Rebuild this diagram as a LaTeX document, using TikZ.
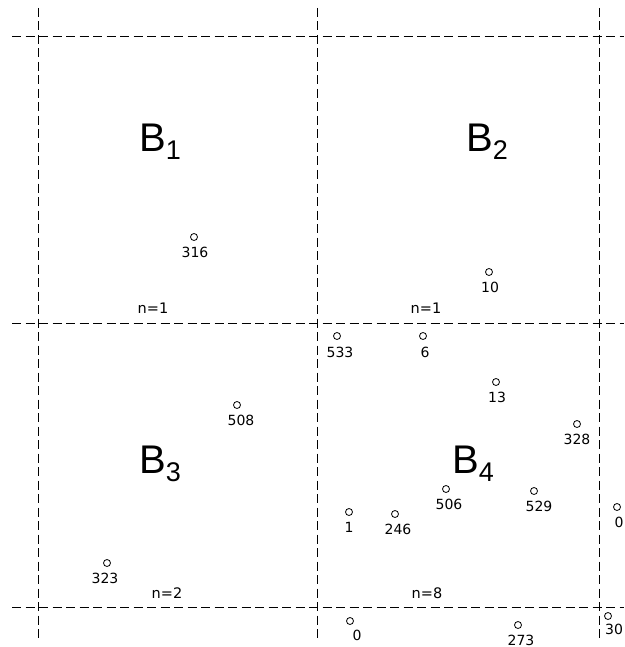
\documentclass[tikz,border=0pt]{standalone}
\usepackage{fontspec}
\setmainfont{Liberation Sans}
\newfontfamily\lblfont{DejaVu Sans}
\newcommand{\blocksub}[1]{\raisebox{-8pt}{\fontsize{27}{27}\selectfont #1}}
\begin{document}
\begin{tikzpicture}[x=1pt,y=-1pt,
  gridline/.style={line width=1pt,dash pattern=on 9pt off 4.5pt},
  dot/.style={circle,draw,line width=0.8pt,minimum size=7pt,inner sep=0pt},
  lbl/.style={inner sep=0pt,font=\lblfont\fontsize{14}{14}\selectfont},
  nlbl/.style={inner sep=0pt,font=\lblfont\fontsize{14.5}{14.5}\selectfont},
  blbl/.style={inner sep=0pt,anchor=base west,font=\fontsize{40}{40}\selectfont}]
\useasboundingbox (0,0) rectangle (624,647);
% grid coordinates
\coordinate (v1t) at (38,8);   \coordinate (v1b) at (38,640);
\coordinate (v2t) at (317,8);  \coordinate (v2b) at (317,640);
\coordinate (v3t) at (599,8);  \coordinate (v3b) at (599,640);
\coordinate (h1l) at (12,37);  \coordinate (h1r) at (624,37);
\coordinate (h2l) at (12,323); \coordinate (h2r) at (624,323);
\coordinate (h3l) at (12,607); \coordinate (h3r) at (624,607);
\draw[gridline] (v1t) -- (v1b);
\draw[gridline] (v2t) -- (v2b);
\draw[gridline] (v3t) -- (v3b);
\draw[gridline] (h1l) -- (h1r);
\draw[gridline] (h2l) -- (h2r);
\draw[gridline] (h3l) -- (h3r);
% block labels
\node[blbl] (B1) at (139,152) {B\blocksub{1}};
\node[blbl] (B2) at (466,152) {B\blocksub{2}};
\node[blbl] (B3) at (139,473) {B\blocksub{3}};
\node[blbl] (B4) at (452,473) {B\blocksub{4}};
% counts
\node[nlbl] (n1) at (153,308) {n=1};
\node[nlbl] (n2) at (426,308) {n=1};
\node[nlbl] (n3) at (167,593) {n=2};
\node[nlbl] (n4) at (427,593) {n=8};
% points
\node[dot] (p316) at (194,237) {}; \node[lbl] (l316) at (195,252) {316};
\node[dot] (p10) at (489,272) {};  \node[lbl] (l10) at (490,287) {10};
\node[dot] (p533) at (337,336) {}; \node[lbl] (l533) at (340,352) {533};
\node[dot] (p6) at (423,336) {};   \node[lbl] (l6) at (425,352) {6};
\node[dot] (p13) at (496,382) {};  \node[lbl] (l13) at (497,397) {13};
\node[dot] (p328) at (577,424) {}; \node[lbl] (l328) at (577,439) {328};
\node[dot] (p508) at (237,405) {}; \node[lbl] (l508) at (241,420) {508};
\node[dot] (p506) at (446,489) {}; \node[lbl] (l506) at (449,504) {506};
\node[dot] (p529) at (534,491) {}; \node[lbl] (l529) at (539,506) {529};
\node[dot] (p1) at (349,512) {};   \node[lbl] (l1) at (349,527) {1};
\node[dot] (p246) at (395,514) {}; \node[lbl] (l246) at (398,529) {246};
\node[dot] (p0a) at (617,507) {};  \node[lbl] (l0a) at (619,522) {0};
\node[dot] (p323) at (107,563) {}; \node[lbl] (l323) at (105,578) {323};
\node[dot] (p0b) at (350,621) {};  \node[lbl] (l0b) at (357,635) {0};
\node[dot] (p273) at (518,625) {}; \node[lbl] (l273) at (521,640) {273};
\node[dot] (p30) at (608,616) {};  \node[lbl] (l30) at (614,629) {30};
\end{tikzpicture}
\end{document}
